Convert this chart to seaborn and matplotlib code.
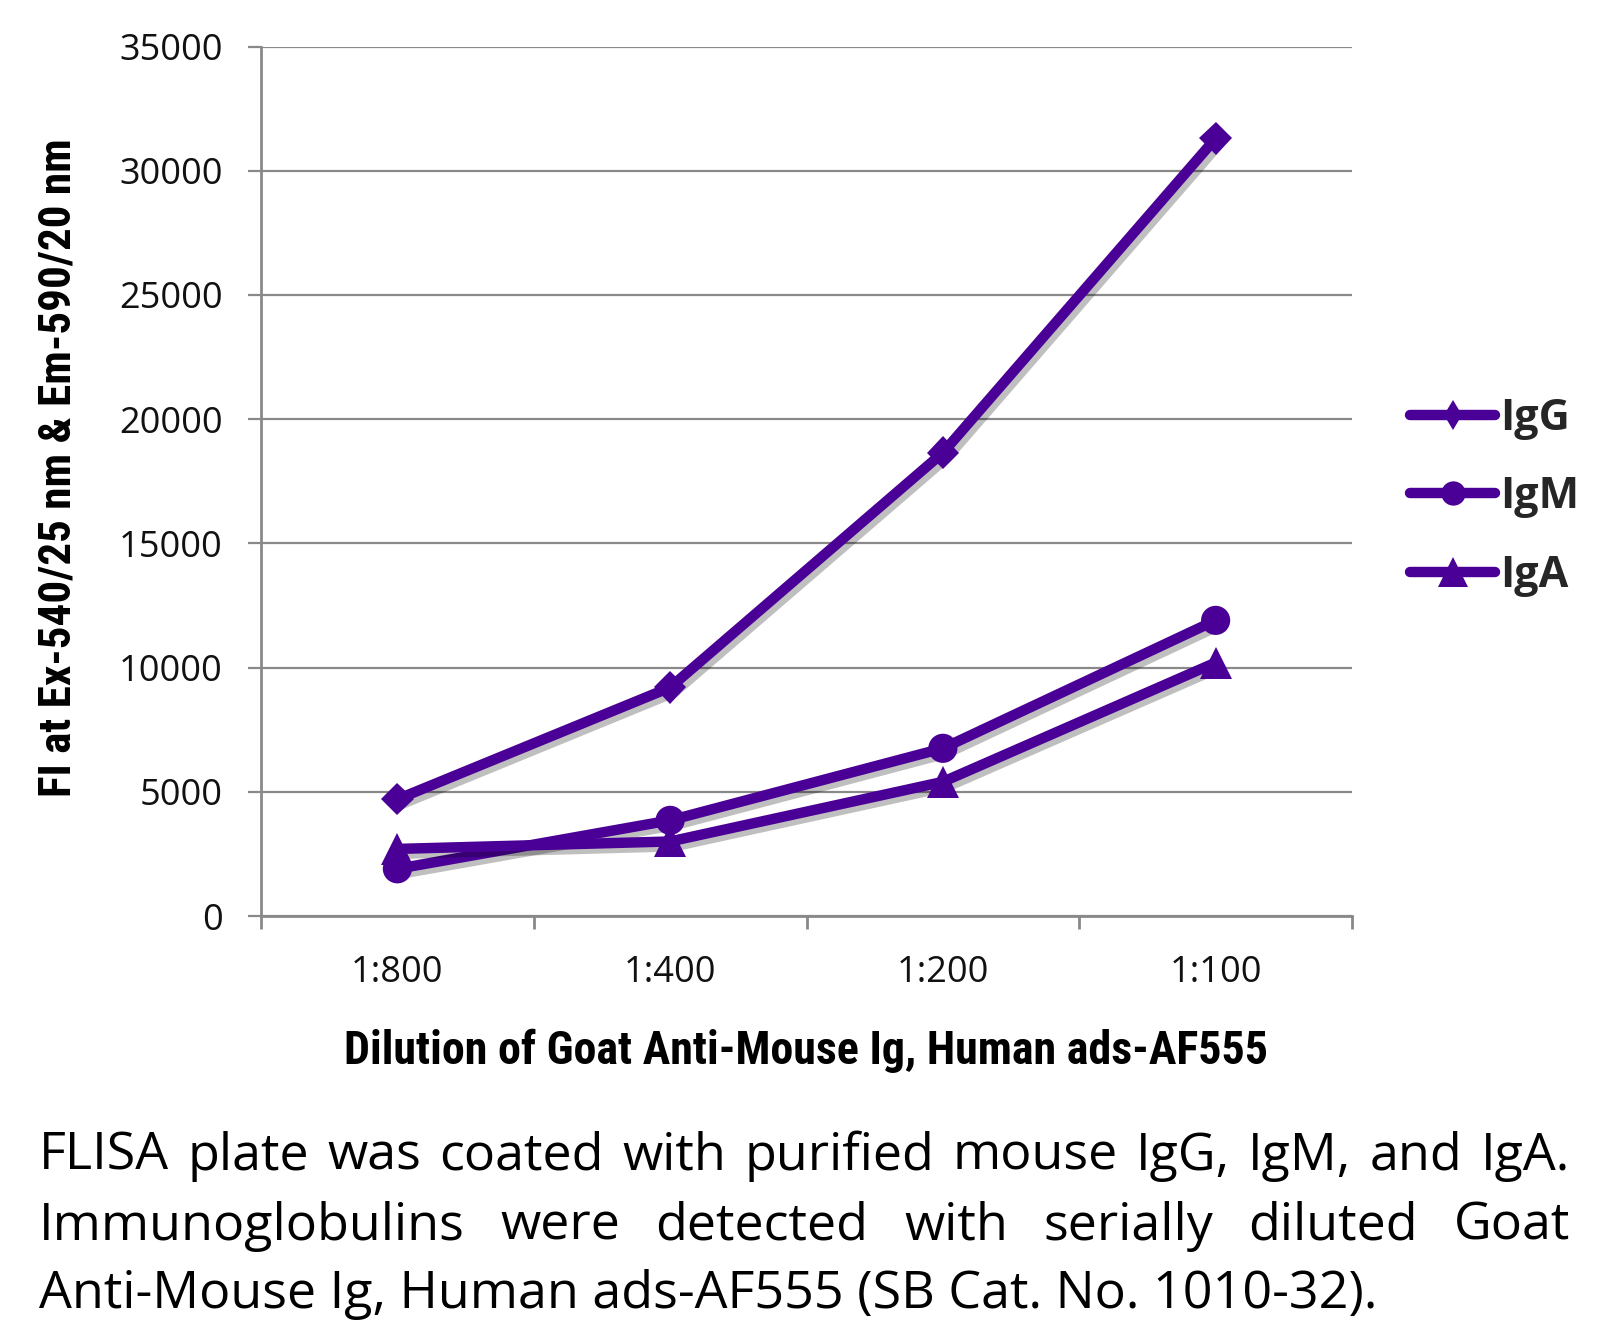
import matplotlib
matplotlib.use("Agg")
import matplotlib.pyplot as plt
import matplotlib.patheffects as pe
from matplotlib.lines import Line2D
from matplotlib import font_manager
import pandas as pd
import seaborn as sns

# ---------------- data ----------------
categories = ["1:800", "1:400", "1:200", "1:100"]
series_names = ["IgG", "IgM", "IgA"]
igg_values = [4700, 9200, 18650, 31300]
igm_values = [1900, 3850, 6750, 11900]
iga_values = [2700, 3000, 5400, 10200]
y_ticks = [0, 5000, 10000, 15000, 20000, 25000, 30000, 35000]

y_label = "FI at Ex-540/25 nm & Em-590/20 nm"
x_label = "Dilution of Goat Anti-Mouse Ig, Human ads-AF555"
caption_lines = [
    "FLISA plate was coated with purified mouse IgG, IgM, and IgA.",
    "Immunoglobulins were detected with serially diluted Goat",
    "Anti-Mouse Ig, Human ads-AF555 (SB Cat. No. 1010-32).",
]

# ---------------- style ----------------
sns.set_theme(style="white")
plt.rcParams["font.family"] = ["Open Sans", "DejaVu Sans"]

installed = {f.name for f in font_manager.fontManager.ttflist}
narrow = None
for cand in ["Liberation Sans Narrow", "Roboto Condensed", "Open Sans Condensed", "Roboto"]:
    if cand in installed:
        narrow = cand
        break
if narrow is None:
    narrow = "DejaVu Sans"

W, H = 1620, 1324
fig = plt.figure(figsize=(W / 100, H / 100), dpi=100)
fig.patch.set_facecolor("white")

left, right, top, bottom = 261, 1352, 46.5, 916
ax = fig.add_axes([left / W, 1 - bottom / H, (right - left) / W, (bottom - top) / H])

color = "#4a0097"
grey = "#898989"
marker_map = {"IgG": "D", "IgM": "o", "IgA": "^"}
msize_map = {"IgG": 16.5, "IgM": 21, "IgA": 23}

df = pd.DataFrame({
    "dilution": categories * 3,
    "FI": igg_values + igm_values + iga_values,
    "Ig": [s for s in series_names for _ in categories],
})

shadow = [pe.SimpleLineShadow(offset=(3, -3.5), shadow_color="black", alpha=0.25), pe.Normal()]
for name in series_names:
    sub = df[df["Ig"] == name]
    sns.lineplot(data=sub, x="dilution", y="FI", ax=ax, color=color,
                 marker=marker_map[name], markersize=msize_map[name],
                 markeredgewidth=0, linewidth=7.5, sort=False,
                 errorbar=None, legend=False, path_effects=shadow, zorder=3)

ax.set_xlim(-0.5, 3.5)
ax.set_ylim(0, 35000)
ax.set_yticks(y_ticks)
ax.set_yticklabels([str(v) for v in y_ticks])
ax.set_xticks([-0.5, 0.5, 1.5, 2.5, 3.5])
ax.set_xticklabels([])
ax.set_xticks(range(len(categories)), minor=True)
ax.set_xticklabels(categories, minor=True)
ax.set_xlabel("")
ax.set_ylabel("")

ax.yaxis.grid(True, color=grey, linewidth=1.6)
ax.xaxis.grid(False)
ax.set_axisbelow(True)
for s in ["top", "right"]:
    ax.spines[s].set_visible(False)
for s in ["left", "bottom"]:
    ax.spines[s].set_color(grey)
    ax.spines[s].set_linewidth(2)

ax.tick_params(axis="y", which="major", direction="out", length=9.5, width=1.6,
               color=grey, pad=18, labelsize=26, labelcolor="#111111", left=True)
ax.tick_params(axis="x", which="major", direction="out", length=9, width=2,
               color=grey, bottom=True)
ax.tick_params(axis="x", which="minor", length=0, pad=28, labelsize=26,
               labelcolor="#111111")

# ---------------- legend ----------------
leg_markers = {"IgG": ("d", 15), "IgM": ("o", 17.5), "IgA": ("^", 21)}
handles = [Line2D([], [], color=color, lw=7.5, solid_capstyle="round",
                  marker=leg_markers[n][0], markersize=leg_markers[n][1],
                  markeredgewidth=0) for n in series_names]
leg = ax.legend(handles, series_names, loc="center left",
                bbox_to_anchor=(1410 / W, 1 - 497 / H), bbox_transform=fig.transFigure,
                frameon=False, handlelength=1.98, handletextpad=0.12, labelspacing=0.82,
                borderpad=0, borderaxespad=0, numpoints=1,
                prop={"family": "Open Sans", "weight": "bold", "size": 31})

# ---------------- axis titles ----------------
renderer = fig.canvas.get_renderer()


def fit_size(text, target_px, base=30, **kw):
    t = fig.text(0, 0, text, fontsize=base, **kw)
    w = t.get_window_extent(renderer).width
    t.remove()
    return base * target_px / w

xs = fit_size(x_label, 925, family=narrow, weight="bold")
fig.text(806 / W, 1 - 1051 / H, x_label, ha="center", va="center",
         fontsize=xs, family=narrow, weight="bold", color="black")
ys = fit_size(y_label, 658, family=narrow, weight="bold")
fig.text(59 / W, 1 - 468 / H, y_label, ha="center", va="center", rotation=90,
         fontsize=ys, family=narrow, weight="bold", color="black")

# ---------------- caption (justified) ----------------
cap_left, cap_right = 39, 1570
cap_size = fit_size(caption_lines[2], 1377 - 39, family="Open Sans")
baselines = [1170, 1240, 1308]


def word_width(w):
    t = fig.text(0, 0, w, fontsize=cap_size, family="Open Sans")
    wd = t.get_window_extent(renderer).width
    t.remove()
    return wd

for i, line in enumerate(caption_lines):
    yb = 1 - baselines[i] / H
    if i < 2:
        words = line.split(" ")
        widths = [word_width(w) for w in words]
        gap = (cap_right - cap_left - sum(widths)) / (len(words) - 1)
        x = cap_left
        for w, wd in zip(words, widths):
            fig.text(x / W, yb, w, fontsize=cap_size, family="Open Sans",
                     va="baseline", ha="left", color="black")
            x += wd + gap
    else:
        fig.text(cap_left / W, yb, line, fontsize=cap_size, family="Open Sans",
                 va="baseline", ha="left", color="black")

fig.savefig("out.png", dpi=100, facecolor="white")
